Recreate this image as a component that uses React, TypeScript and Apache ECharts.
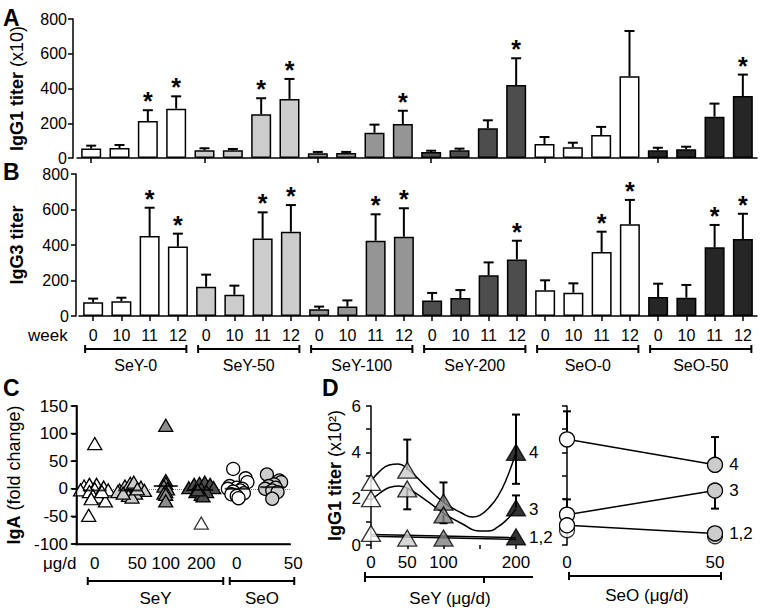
import React, { useEffect, useRef } from 'react';
import * as echarts from 'echarts';

const FONT = '"Liberation Sans", Arial, sans-serif';

// ---------- Panels A & B ----------
const groups = ['SeY-0', 'SeY-50', 'SeY-100', 'SeY-200', 'SeO-0', 'SeO-50'];
const weeks = ['0', '10', '11', '12'];
const groupColors = ['#ffffff', '#cccccc', '#959595', '#4d4d4d', '#ffffff', '#262626'];

const igg1Mean = [54, 58, 213, 284, 44, 44, 252, 340, 27, 29, 146, 196, 35, 44, 171, 420, 81, 62, 132, 470, 44, 50, 238, 357];
const igg1Err = [71, 75, 275, 355, 56, 52, 344, 455, 35, 35, 192, 272, 42, 54, 217, 574, 121, 88, 179, 731, 59, 65, 313, 480];
const igg1Stars = [2, 3, 6, 7, 11, 15, 23];

const igg3Mean = [77, 83, 451, 391, 165, 120, 436, 475, 38, 53, 424, 447, 88, 101, 229, 319, 145, 131, 361, 517, 107, 103, 387, 434];
const igg3Err = [98, 103, 610, 464, 233, 171, 584, 625, 53, 88, 573, 607, 130, 146, 302, 424, 201, 184, 475, 654, 182, 175, 513, 576];
const igg3Stars = [2, 3, 6, 7, 10, 11, 15, 18, 19, 22, 23];

// ---------- Panel C ----------
const igaCats = ['SeY 0', 'SeY 50', 'SeY 100', 'SeY 200', 'SeO 0', 'SeO 50'];
const igaDoseLabels = ['0', '50', '100', '200', '0', '50'];
const igaFamilies = ['SeY', 'SeO'];
const igaFamilySpan = [[0, 3], [4, 5]];
const igaSymbols = ['triangle', 'triangle', 'triangle', 'triangle', 'circle', 'circle'];
const igaColors = ['#ffffff', '#cccccc', '#8c8c8c', '#4d4d4d', '#ffffff', '#cccccc'];
const igaYMin = -100;
const igaYMax = 150;
const igaYStep = 50;
// [x offset within group, fold change]
const igaSeY0 = [[0, 82], [-0.17, -48], [-0.3, 5], [-0.15, 8], [0.05, 8], [0.25, 3], [0.38, -2], [-0.4, -2], [0, 0], [-0.15, -5], [0.15, -8], [-0.05, -12], [0.1, -15], [0.3, -22], [-0.1, -18], [0.2, -5]];
const igaSeY50 = [[-0.3, -2], [-0.15, 5], [0, 10], [0.1, 12], [0.3, 3], [0.4, -3], [-0.35, -5], [0.15, -8], [-0.05, -12], [0.05, -15], [0.2, 0], [-0.2, -8]];
const igaSeY100 = [[0, 115], [0, 15], [0, 10], [-0.05, 5], [0.05, 0], [0, -5], [-0.05, -8], [0, -10], [0, -22]];
const igaSeY200 = [[-0.35, 2], [-0.2, 8], [-0.05, 10], [0.1, 12], [0.25, 8], [0.35, 2], [0, 0], [-0.15, -5], [0.15, -5], [0, -10], [0.05, -13], [-0.1, -2]];
const igaSeY200Open = [[0, -62]];
const igaSeO0 = [[-0.1, 36], [0.25, 19], [0.3, 12], [-0.2, 5], [0, 2], [0.15, 0], [-0.25, 0], [0.1, -3], [-0.1, -5], [0.2, -8], [-0.15, -10], [0, -13], [0.05, -17]];
const igaSeO50 = [[-0.15, 26], [0.2, 15], [0.25, 12], [0.05, 8], [-0.1, 5], [0.1, 2], [-0.2, 0], [0, -3], [0.15, -6], [0, -18]];
const igaPoints = [igaSeY0, igaSeY50, igaSeY100, igaSeY200, igaSeO0, igaSeO50];
const igaMeans = [-3, -3, 5, -2, 0, 3];
// horizontal nudge of the tick labels (px), as in the original layout
const igaLabelShift = [0, 7, 0, 0, 0, 21];

// ---------- Panel D ----------
const doses = [0, 50, 100, 200];
const doseColors = ['#ffffff', '#cccccc', '#808080', '#000000'];
const seyLine4 = [2.7, 3.23, 1.85, 4.0];
const seyLine3 = [2.0, 2.42, 1.3, 1.6];
const seyLine12 = [0.5, 0.3, 0.3, 0.35];
const seyFit4 = [[0, 2.75], [12.5, 3.2], [25, 3.45], [37.5, 3.5], [50, 3.3], [75, 2.55], [100, 1.85], [125, 1.38], [140, 1.21], [150, 1.28], [162.5, 1.6], [175, 2.1], [187.5, 2.9], [200, 4.0]];
const seyFit3 = [[0, 1.92], [12.5, 2.25], [25, 2.48], [37.5, 2.55], [50, 2.45], [75, 1.95], [100, 1.38], [125, 0.93], [150, 0.6], [162.5, 0.6], [175, 0.78], [187.5, 1.1], [200, 1.55]];
const seyFit12a = [[0, 0.45], [200, 0.32]];
const seyFit12b = [[0, 0.38], [200, 0.24]];
// [dose, from, to]
const seyErr = [[50, 3.23, 4.55], [100, 1.85, 2.7], [200, 4.0, 5.63], [200, 4.0, 2.64], [50, 2.42, 1.54], [100, 1.3, 0.94], [200, 1.6, 2.14]];

const seoDoses = [0, 50];
const seoColors = ['#ffffff', '#cccccc'];
const seoLine4 = [4.56, 3.46];
const seoLine3 = [1.31, 2.35];
const seoLine1 = [0.85, 0.5];
const seoLine2 = [0.64, 0.38];
const seoErr = [[0, 4.56, 5.77], [50, 3.46, 4.66], [50, 2.35, 1.57], [0, 1.31, 1.97]];
const lineLabels = ['4', '3', '1,2'];

const GRID_C = { left: 77, top: 406, width: 213, height: 138 };

const txt = { color: '#000', fontFamily: FONT };
const mkAxisLine = (extra: any = {}) => ({ show: true, lineStyle: { color: '#000', width: 1.5 }, ...extra });
const mkTick = (len: number) => ({ show: true, length: len, lineStyle: { color: '#000', width: 1.5 } });

function errRender(capHalf: number, withStar: boolean) {
  return (params: any, api: any) => {
    const x = api.value(0);
    const y0 = api.value(1);
    const y1 = api.value(2);
    const p0 = api.coord([x, y0]);
    const p1 = api.coord([x, y1]);
    const children: any[] = [
      { type: 'line', shape: { x1: p0[0], y1: p0[1], x2: p1[0], y2: p1[1] }, style: { stroke: '#000', lineWidth: 2 } },
      { type: 'line', shape: { x1: p1[0] - capHalf, y1: p1[1], x2: p1[0] + capHalf, y2: p1[1] }, style: { stroke: '#000', lineWidth: 2 } },
    ];
    if (withStar && api.value(3)) {
      children.push({
        type: 'text', x: p1[0], y: p1[1] - 9,
        style: { text: '*', fontSize: 25, fontWeight: 'bold', fontFamily: FONT, fill: '#000', align: 'center', verticalAlign: 'middle' },
      });
    }
    return { type: 'group', children };
  };
}

function bracketRender(names: string[], dx0: number, dx1: number, dy: number, ty: number, yBase: number, fontSize: number) {
  return (params: any, api: any) => {
    const s = api.value(0);
    const e = api.value(1);
    const gi = api.value(2);
    const p0 = api.coord([s, yBase]);
    const p1 = api.coord([e, yBase]);
    const y = p0[1] + dy;
    const x0 = p0[0] + dx0;
    const x1 = p1[0] + dx1;
    const st = { stroke: '#000', lineWidth: 2 };
    return {
      type: 'group',
      children: [
        { type: 'line', shape: { x1: x0, y1: y, x2: x1, y2: y }, style: st },
        { type: 'line', shape: { x1: x0, y1: y - 4, x2: x0, y2: y + 4 }, style: st },
        { type: 'line', shape: { x1: x1, y1: y - 4, x2: x1, y2: y + 4 }, style: st },
        {
          type: 'text', x: (x0 + x1) / 2, y: y + ty,
          style: { text: names[gi], fontSize, fontFamily: FONT, fill: '#000', align: 'center', verticalAlign: 'middle' },
        },
      ],
    };
  };
}

export default function App() {
  const ref = useRef<HTMLDivElement>(null);
  useEffect(() => {
    if (!ref.current) return;
    const chart = echarts.init(ref.current, null, { renderer: 'svg' });
    const barCats = groups.flatMap((g) => weeks.map((w) => `${g} wk${w}`));
    const barData = (means: number[]) =>
      means.map((v, i) => ({ value: v, itemStyle: { color: groupColors[Math.floor(i / 4)] } }));
    const errData = (means: number[], errs: number[], stars: number[]) =>
      means.map((m, i) => [i, m, errs[i], stars.includes(i) ? 1 : 0]);

    const series: any[] = [];
    // Panel A
    series.push({
      type: 'bar', xAxisIndex: 0, yAxisIndex: 0, data: barData(igg1Mean), barWidth: 20,
      itemStyle: { borderColor: '#000', borderWidth: 1.5 },
    });
    series.push({
      type: 'custom', xAxisIndex: 0, yAxisIndex: 0, data: errData(igg1Mean, igg1Err, igg1Stars),
      renderItem: errRender(5, true), z: 5, encode: { x: 0, y: [1, 2] },
    });
    // Panel B
    series.push({
      type: 'bar', xAxisIndex: 1, yAxisIndex: 1, data: barData(igg3Mean), barWidth: 20,
      itemStyle: { borderColor: '#000', borderWidth: 1.5 },
    });
    series.push({
      type: 'custom', xAxisIndex: 1, yAxisIndex: 1, data: errData(igg3Mean, igg3Err, igg3Stars),
      renderItem: errRender(5, true), z: 5, encode: { x: 0, y: [1, 2] },
    });
    series.push({
      type: 'custom', xAxisIndex: 1, yAxisIndex: 1, clip: false,
      data: groups.map((g, i) => [i * 4, i * 4 + 3, i]),
      renderItem: bracketRender(groups, -8, 8.5, 33, 16, 0, 16), encode: { x: [0, 1], y: -1 },
    });
    // Panel C (hidden value x-axis 0..6, group i centred at i + 0.5)
    igaPoints.forEach((pts, gi) => {
      series.push({
        type: 'scatter', xAxisIndex: 3, yAxisIndex: 2,
        symbol: igaSymbols[gi], symbolSize: igaSymbols[gi] === 'triangle' ? [14, 12] : 13,
        data: pts.map(([o, v]) => [gi + 0.5 + o, v]),
        itemStyle: { color: igaColors[gi], borderColor: '#000', borderWidth: 1.3, opacity: 1 },
        markLine: gi === 0 ? {
          silent: true, symbol: ['none', 'none'], label: { show: false },
          lineStyle: { type: 'dotted', color: '#777', width: 1 }, data: [{ yAxis: 0 }], z: 1,
        } : undefined,
        z: 3,
      });
    });
    series.push({
      type: 'scatter', xAxisIndex: 3, yAxisIndex: 2, symbol: 'triangle', symbolSize: [14, 12],
      data: igaSeY200Open.map(([o, v]) => [3.5 + o, v]),
      itemStyle: { color: '#ffffff', borderColor: '#000', borderWidth: 1.3 }, z: 3,
    });
    series.push({
      type: 'scatter', xAxisIndex: 3, yAxisIndex: 2, symbol: 'rect', symbolSize: [24, 2],
      data: igaMeans.map((m, i) => [i + 0.5, m]), itemStyle: { color: '#000' }, z: 6,
    });
    series.push({
      type: 'custom', xAxisIndex: 3, yAxisIndex: 2, clip: false,
      data: igaFamilySpan.map(([s, e], i) => [s + 0.5, e + 0.5, i]),
      renderItem: bracketRender(igaFamilies, -7, 22, 37, 17, igaYMin, 17), encode: { x: [0, 1], y: -1 },
    });
    // Panel D left
    [seyFit4, seyFit3, seyFit12a, seyFit12b].forEach((fit, fi) => {
      series.push({
        type: 'line', xAxisIndex: 4, yAxisIndex: 3, data: fit, smooth: 0.5, showSymbol: false,
        lineStyle: { color: '#000', width: 1.5 }, z: 2, silent: true,
        endLabel: {
          show: fi < 3, distance: 13, fontSize: 17, color: '#000', fontFamily: FONT,
          formatter: () => lineLabels[fi],
        },
      });
    });
    series.push({
      type: 'custom', xAxisIndex: 4, yAxisIndex: 3, data: seyErr, renderItem: errRender(4, false), z: 1,
      encode: { x: 0, y: [1, 2] },
    });
    [seyLine4, seyLine3, seyLine12].forEach((vals) => {
      series.push({
        type: 'scatter', xAxisIndex: 4, yAxisIndex: 3, symbol: 'triangle', symbolSize: [19, 16],
        data: doses.map((d, i) => [d, vals[i]]),
        itemStyle: { color: (p: any) => doseColors[p.dataIndex], borderColor: '#000', borderWidth: 1.3 },
        z: 4,
      });
    });
    // Panel D right
    series.push({
      type: 'custom', xAxisIndex: 5, yAxisIndex: 4, data: seoErr, renderItem: errRender(4, false), z: 1,
      encode: { x: 0, y: [1, 2] },
    });
    [seoLine4, seoLine3, seoLine1].forEach((vals, li) => {
      series.push({
        type: 'line', xAxisIndex: 5, yAxisIndex: 4, symbol: 'circle', symbolSize: 15, showAllSymbol: true,
        data: seoDoses.map((d, i) => [d, vals[i]]),
        lineStyle: { color: '#000', width: 1.5 },
        itemStyle: { color: (p: any) => seoColors[p.dataIndex], borderColor: '#000', borderWidth: 1.3 },
        label: {
          show: true, position: 'right', distance: 6, fontSize: 17, ...txt,
          formatter: (p: any) => (p.dataIndex === seoDoses.length - 1 ? lineLabels[li] : ''),
        },
        z: 4,
      });
    });
    series.push({
      type: 'scatter', xAxisIndex: 5, yAxisIndex: 4, symbol: 'circle', symbolSize: 15,
      data: seoDoses.map((d, i) => [d, seoLine2[i]]),
      itemStyle: { color: (p: any) => seoColors[p.dataIndex], borderColor: '#000', borderWidth: 1.3 },
      z: 3,
    });

    const yName = (rich: boolean) => ({
      nameLocation: 'middle', nameRotate: 90,
      nameTextStyle: {
        ...txt, fontSize: 18, fontWeight: 'bold',
        rich: rich ? {
          b: { fontSize: 18, fontWeight: 'bold', fontFamily: FONT, color: '#000' },
          n: { fontSize: 18, fontWeight: 'normal', fontFamily: FONT, color: '#000' },
        } : undefined,
      },
    });

    const igaRich: any = {};
    igaLabelShift.forEach((s, i) => {
      igaRich['p' + i] = { fontSize: 17, fontFamily: FONT, color: '#000', padding: [0, 0, 0, s * 2] };
    });

    // Panel C frame (left axis line with ticks, bottom axis line) from the grid's box and y-scale
    const cl = GRID_C.left - 0.5;
    const ct = GRID_C.top;
    const cb = GRID_C.top + GRID_C.height + 0.5;
    const cr = GRID_C.left + GRID_C.width;
    const frameLines: number[][] = [
      [cl, ct, cl, cb],
      [cl, cb, cr, cb],
    ];
    for (let v = igaYMin; v <= igaYMax; v += igaYStep) {
      const y = ct + (GRID_C.height * (igaYMax - v)) / (igaYMax - igaYMin);
      frameLines.push([cl - 5, y, cl, y]);
    }
    const frame: any[] = frameLines.map(([x1, y1, x2, y2]) => ({
      type: 'rect', zlevel: 5, z: 100,
      shape: { x: Math.min(x1, x2) - 0.8, y: Math.min(y1, y2) - 0.8, width: Math.abs(x2 - x1) + 1.6, height: Math.abs(y2 - y1) + 1.6 },
      style: { fill: '#000' },
    }));

    const option: any = {
      animation: false,
      backgroundColor: '#fff',
      textStyle: { fontFamily: FONT },
      grid: [
        { left: 74, top: 19, width: 683, height: 139 },
        { left: 74, top: 174, width: 683, height: 142 },
        { ...GRID_C },
        { left: 371, top: 406, width: 145, height: 139 },
        { left: 567, top: 406, width: 148, height: 139 },
      ],
      xAxis: [
        {
          type: 'category', gridIndex: 0, data: barCats, axisLine: mkAxisLine(),
          axisTick: { ...mkTick(5), alignWithLabel: true },
          axisLabel: { show: false },
        },
        {
          type: 'category', gridIndex: 1, data: barCats, axisLine: mkAxisLine(),
          axisTick: { ...mkTick(5), alignWithLabel: true },
          axisLabel: { show: true, interval: 0, margin: 11, fontSize: 16, ...txt, formatter: (v: string, i: number) => weeks[i % 4] },
        },
        {
          type: 'category', gridIndex: 2, data: igaCats, position: 'bottom',
          axisLine: mkAxisLine({ onZero: true, onZeroAxisIndex: 5 }),
          axisTick: { show: false },
          axisLabel: {
            show: true, interval: 0, margin: 11, fontSize: 17, ...txt, rich: igaRich,
            formatter: (v: string, i: number) => `{p${i}|${igaDoseLabels[i]}}`,
          },
        },
        { type: 'value', gridIndex: 2, min: 0, max: igaCats.length, show: false, position: 'top' },
        {
          type: 'value', gridIndex: 3, min: 0, max: 200, interval: 50,
          axisLine: { show: false }, splitLine: { show: false },
          axisTick: mkTick(4),
          axisLabel: { margin: 9, fontSize: 17, ...txt, formatter: (v: number) => (v === 150 ? '' : String(v)) },
        },
        {
          type: 'value', gridIndex: 4, min: 0, max: 50, interval: 50,
          axisLine: { show: false }, splitLine: { show: false }, axisTick: { show: false },
          axisLabel: { margin: 9, fontSize: 17, ...txt },
        },
      ],
      yAxis: [
        {
          type: 'value', gridIndex: 0, min: 0, max: 800, interval: 200, offset: 4, axisLine: mkAxisLine(),
          axisTick: mkTick(5), splitLine: { show: false },
          axisLabel: { margin: 6, fontSize: 16, ...txt },
          name: '{b|IgG1 titer} {n|(x10)}', nameGap: 47, ...yName(true),
        },
        {
          type: 'value', gridIndex: 1, min: 0, max: 800, interval: 200, offset: 3, axisLine: mkAxisLine(),
          axisTick: mkTick(5), splitLine: { show: false },
          axisLabel: { margin: 7, fontSize: 16, ...txt },
          name: 'IgG3 titer', nameGap: 50, ...yName(false),
        },
        {
          type: 'value', gridIndex: 2, min: igaYMin, max: igaYMax, interval: igaYStep, position: 'left',
          axisLine: mkAxisLine({ onZero: true, onZeroAxisIndex: 3 }),
          axisTick: mkTick(5), splitLine: { show: false },
          axisLabel: { margin: 9, fontSize: 17, ...txt },
          name: '{b|IgA} {n|(fold change)}', nameGap: 54, ...yName(true),
        },
        {
          type: 'value', gridIndex: 3, min: 0, max: 6, interval: 1, axisLine: mkAxisLine(),
          axisTick: mkTick(5), splitLine: { show: false },
          axisLabel: { margin: 10, fontSize: 17, ...txt, formatter: (v: number) => (v % 2 === 0 ? String(v) : '') },
          name: '{b|IgG1 titer} {n|(x10²)}', nameGap: 27, ...yName(true),
        },
        {
          type: 'value', gridIndex: 4, min: 0, max: 6, interval: 1, axisLine: mkAxisLine(),
          axisTick: mkTick(5), splitLine: { show: false },
          axisLabel: { show: false },
        },
        { type: 'value', gridIndex: 2, min: 0, max: 1, show: false, position: 'right' },
      ],
      graphic: [
        { type: 'text', left: 3, top: 6, style: { text: 'A', fontSize: 23, fontWeight: 'bold', fontFamily: FONT, fill: '#000' } },
        { type: 'text', left: 3, top: 160, style: { text: 'B', fontSize: 23, fontWeight: 'bold', fontFamily: FONT, fill: '#000' } },
        { type: 'text', left: 3, top: 376, style: { text: 'C', fontSize: 23, fontWeight: 'bold', fontFamily: FONT, fill: '#000' } },
        { type: 'text', left: 322, top: 376, style: { text: 'D', fontSize: 23, fontWeight: 'bold', fontFamily: FONT, fill: '#000' } },
        { type: 'text', x: 28, y: 335, style: { text: 'week', fontSize: 17, fontFamily: FONT, fill: '#000', verticalAlign: 'middle' } },
        { type: 'text', x: 43, y: 563, style: { text: 'μg/d', fontSize: 17, fontFamily: FONT, fill: '#000', verticalAlign: 'middle' } },
        ...frame,
        // D left bracket
        { type: 'line', shape: { x1: 365, y1: 577, x2: 533, y2: 577 }, style: { stroke: '#000', lineWidth: 2 } },
        { type: 'line', shape: { x1: 365, y1: 572, x2: 365, y2: 582 }, style: { stroke: '#000', lineWidth: 2 } },
        { type: 'line', shape: { x1: 484, y1: 577, x2: 484, y2: 583 }, style: { stroke: '#000', lineWidth: 2 } },
        { type: 'text', x: 450, y: 598, style: { text: 'SeY (μg/d)', fontSize: 17, fontFamily: FONT, fill: '#000', align: 'center', verticalAlign: 'middle' } },
        // D right bracket
        { type: 'line', shape: { x1: 569, y1: 576, x2: 721, y2: 576 }, style: { stroke: '#000', lineWidth: 2 } },
        { type: 'line', shape: { x1: 569, y1: 572, x2: 569, y2: 580 }, style: { stroke: '#000', lineWidth: 2 } },
        { type: 'line', shape: { x1: 721, y1: 572, x2: 721, y2: 580 }, style: { stroke: '#000', lineWidth: 2 } },
        { type: 'text', x: 647, y: 595, style: { text: 'SeO (μg/d)', fontSize: 17, fontFamily: FONT, fill: '#000', align: 'center', verticalAlign: 'middle' } },
      ],
      series,
    };
    chart.setOption(option);
    return () => chart.dispose();
  }, []);
  return <div ref={ref} style={{ position: 'fixed', left: 0, top: 0, width: 761, height: 610, background: '#fff' }} />;
}
